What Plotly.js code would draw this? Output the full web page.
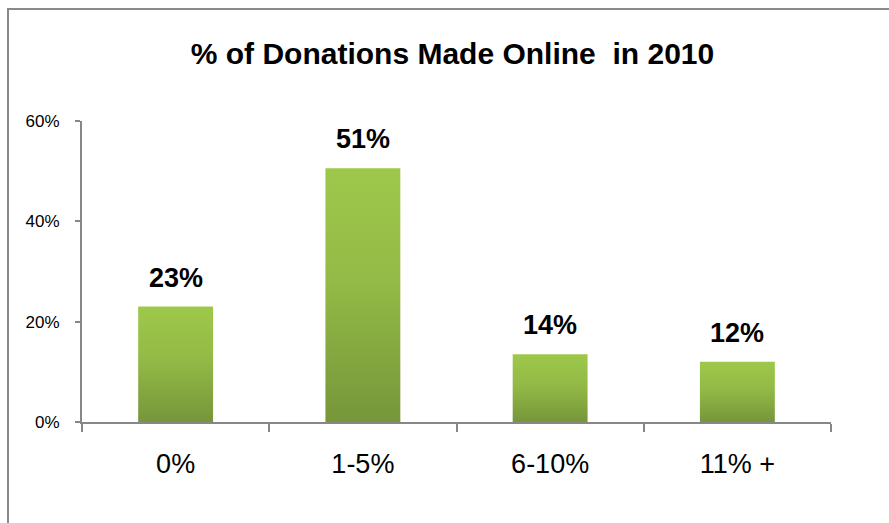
<!DOCTYPE html>
<html>
<head>
<meta charset="utf-8">
<script src="https://cdn.plot.ly/plotly-3.0.1.min.js"></script>
<style>
  html, body { margin: 0; padding: 0; background: #fff; overflow: hidden; }
  #wrap { position: relative; width: 889px; height: 523px; }
  #chart { width: 889px; height: 523px; }
  #frame { position: absolute; left: 7px; top: 8px; width: 1000px; height: 700px;
           border-top: 2px solid #898989; border-left: 2px solid #898989; pointer-events: none; }
</style>
</head>
<body>
<div id="wrap">
  <div id="chart"></div>
  <div id="frame"></div>
</div>
<script>
const categories = ["0%", "1-5%", "6-10%", "11% +"];
const shares = [23, 50.6, 13.5, 12];
const shareLabels = ["23%", "51%", "14%", "12%"];
const yTickVals = [0, 20, 40, 60];
const yTickText = ["0%", "20%", "40%", "60%"];
const chartTitle = "% of Donations Made Online  in 2010";

const font = "Liberation Sans, Arial, sans-serif";
const axisGray = "#878787";

const trace = {
  type: "bar",
  x: categories,
  y: shares,
  marker: { color: "#8aad43", line: { width: 0 } },
  hoverinfo: "skip"
};

const annotations = categories.map((c, i) => ({
  x: c, y: shares[i], xref: "x", yref: "y",
  text: shareLabels[i], showarrow: false,
  yanchor: "bottom", yshift: 12,
  font: { family: font, size: 27, color: "#000", weight: "bold" }
}));

const layout = {
  width: 889, height: 523,
  margin: { l: 82, r: 58, t: 121, b: 101 },
  paper_bgcolor: "rgba(0,0,0,0)",
  plot_bgcolor: "rgba(0,0,0,0)",
  showlegend: false,
  bargap: 0.6,
  title: {
    text: chartTitle,
    font: { family: font, size: 30, color: "#000", weight: "bold" },
    xref: "container", yref: "container",
    x: 0.509, xanchor: "center",
    y: 0.897, yanchor: "middle"
  },
  xaxis: {
    type: "category",
    showline: true, linecolor: axisGray, linewidth: 2,
    ticks: "outside", tickson: "boundaries", ticklen: 8, tickwidth: 2, tickcolor: axisGray,
    showgrid: false, zeroline: false,
    tickfont: { family: font, size: 27, color: "#000" },
    ticklabelstandoff: 17
  },
  yaxis: {
    range: [0, 60],
    tickvals: yTickVals, ticktext: yTickText,
    showline: true, linecolor: axisGray, linewidth: 2,
    ticks: "outside", ticklen: 5, tickwidth: 2, tickcolor: axisGray,
    showgrid: false, zeroline: false,
    tickfont: { family: font, size: 17, color: "#000" },
    ticklabelstandoff: 12
  },
  annotations: annotations
};

Plotly.newPlot("chart", [trace], layout, { staticPlot: true, displayModeBar: false }).then(gd => {
  const svg = gd.querySelector("svg.main-svg");
  const ns = "http://www.w3.org/2000/svg";
  let defs = svg.querySelector("defs");
  if (!defs) { defs = document.createElementNS(ns, "defs"); svg.insertBefore(defs, svg.firstChild); }
  const lg = document.createElementNS(ns, "linearGradient");
  lg.setAttribute("id", "barGrad");
  lg.setAttribute("x1", "0"); lg.setAttribute("y1", "0");
  lg.setAttribute("x2", "0"); lg.setAttribute("y2", "1");
  [["0", "#9ec84b"], ["0.45", "#93ba46"], ["1", "#76963a"]].forEach(([o, c]) => {
    const s = document.createElementNS(ns, "stop");
    s.setAttribute("offset", o); s.setAttribute("stop-color", c);
    lg.appendChild(s);
  });
  defs.appendChild(lg);
  gd.querySelectorAll(".trace.bars .point path").forEach(p => {
    p.style.fill = "url(#barGrad)";
  });
});
</script>
</body>
</html>
